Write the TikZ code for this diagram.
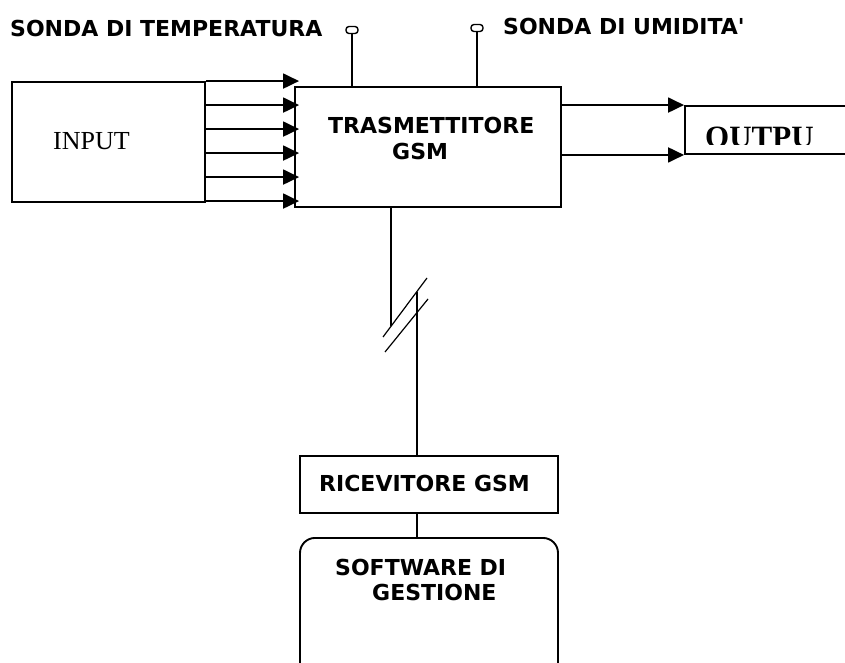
\documentclass[tikz,border=0pt]{standalone}
\usepackage{fontspec}
\setmainfont{Liberation Serif}
\newfontfamily\pixfont{DejaVu Sans}
\usetikzlibrary{arrows.meta}
\begin{document}
\begin{tikzpicture}[x=1pt, y=-1pt,
  box/.style={draw, rectangle, line width=1.9pt, inner sep=0pt},
  lbl/.style={font=\pixfont\bfseries\fontsize{22}{26}\selectfont, inner sep=0pt, anchor=base west},
  arr/.style={line width=1.9pt, -{Triangle[length=16pt,width=15pt]}},
  wire/.style={line width=1.9pt},
  probe/.style={draw, rectangle, rounded corners=3pt, line width=1.4pt, minimum width=12pt, minimum height=7pt, inner sep=0pt},
  brk/.style={line width=1.2pt}]
\clip (0,0) rectangle (845,663);
\node[box, minimum width=193pt, minimum height=120pt] (in) at (108.5,142) {};
\node[box, minimum width=266pt, minimum height=120pt] (tx) at (428,147) {};
\node[box, minimum width=215pt, minimum height=48pt] (out) at (792.5,130) {};
\node[box, minimum width=258pt, minimum height=57pt] (rx) at (429,484.5) {};
\node[box, rounded corners=15pt, minimum width=258pt, minimum height=160pt, anchor=north] (sw) at (429,537) {};
\node[probe] (tp) at (352,30) {};
\node[probe] (hp) at (477,28) {};
\node[lbl] (tplbl) at (10,37) {SONDA DI TEMPERATURA};
\node[lbl] (hplbl) at (503,35) {SONDA DI UMIDITA'};
\node[font=\fontsize{26}{30}\selectfont, inner sep=0pt, anchor=base west] (inlbl) at (53,150) {INPUT};
\node[lbl] (txlbl1) at (328,134) {TRASMETTITORE};
\node[lbl] (txlbl2) at (392,160) {GSM};
\node[lbl] (rxlbl) at (319,491) {RICEVITORE GSM};
\node[lbl] (swlbl1) at (335,575) {SOFTWARE DI};
\node[lbl] (swlbl2) at (372,600) {GESTIONE};
\begin{scope}
\clip (686,100) rectangle (845,145);
\node[font=\bfseries\fontsize{31}{34}\selectfont, inner sep=0pt, anchor=base west] (outlbl) at (705,148) {OUTPU};
\end{scope}
\foreach \i in {0,...,5} {
  \coordinate (a\i) at ([yshift=-\i*24pt]in.north east);
  \draw[arr, shorten >=-5pt] (a\i) -- (a\i -| tx.west);
}
\draw[arr] (tx.east |- out.north west) -- (out.north west);
\draw[arr] (tx.east |- out.south west) -- (out.south west);
\draw[wire] (tp.south) -- (tp.south |- tx.north);
\draw[wire] (hp.south) -- (hp.south |- tx.north);
\coordinate (brkA) at (391,326);
\coordinate (brkB) at (417,292);
\draw[wire] (brkA |- tx.south) -- (brkA);
\draw[brk] (383,337) -- (427,278);
\draw[brk] (385,352) -- (428,299);
\draw[wire] (brkB) -- (brkB |- rx.north);
\draw[wire] (brkB |- rx.south) -- (brkB |- sw.north);
\end{tikzpicture}
\end{document}
